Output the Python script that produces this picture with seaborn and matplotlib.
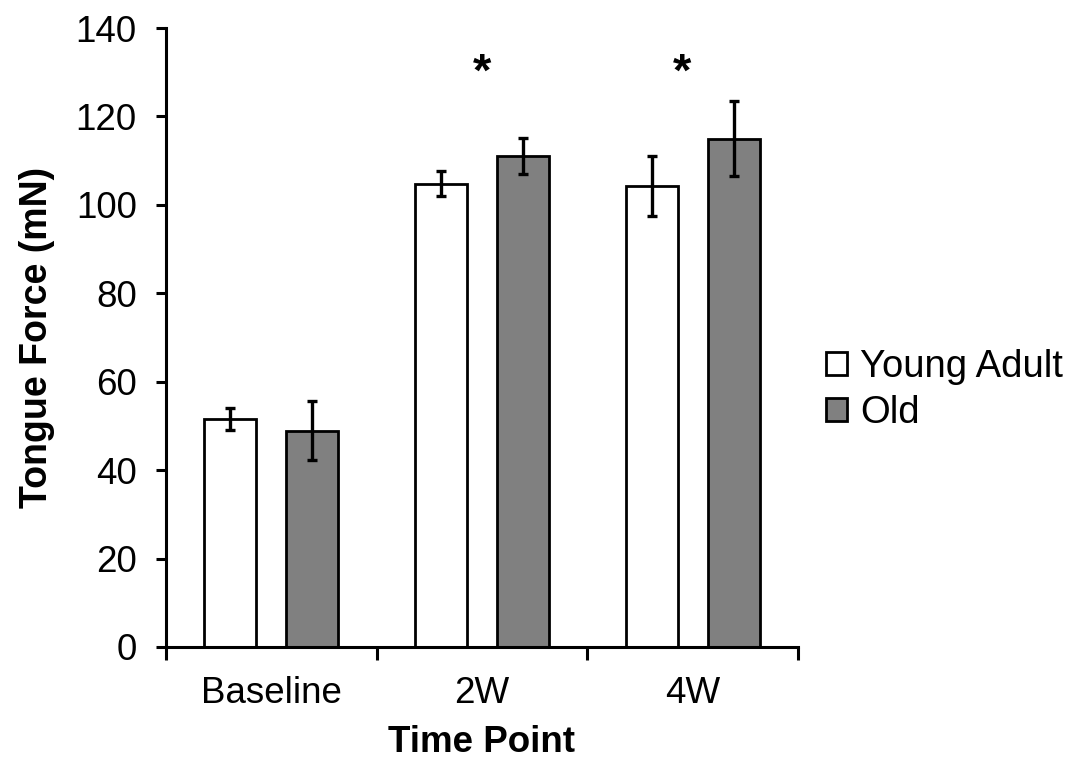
import matplotlib
matplotlib.use("Agg")
import matplotlib.pyplot as plt
from matplotlib.ticker import FixedLocator, MultipleLocator
import seaborn as sns
import pandas as pd

# Tongue force per time point and age group (mean ± SEM)
time_points = ["Baseline", "2W", "4W"]
groups = ["Young Adult", "Old"]
young_mean = [51.6, 104.8, 104.3]
young_sem = [2.5, 2.9, 6.8]
old_mean = [48.9, 111.1, 115.0]
old_sem = [6.7, 4.1, 8.4]
significant = ["2W", "4W"]

df = pd.DataFrame({
    "Time Point": time_points * 2,
    "Group": [groups[0]] * 3 + [groups[1]] * 3,
    "Force": young_mean + old_mean,
})
sems = {groups[0]: young_sem, groups[1]: old_sem}

sns.set_style("ticks")
plt.rcParams["font.family"] = ["Liberation Sans", "DejaVu Sans"]
for key in ("text.color", "axes.labelcolor", "xtick.color", "ytick.color"):
    plt.rcParams[key] = "black"

fig = plt.figure(figsize=(10.7, 7.59), dpi=100)
ax = fig.add_axes([166 / 1070, 1 - 647 / 759, (798 - 166) / 1070, (647 - 28) / 759])

sns.barplot(
    data=df, x="Time Point", y="Force", hue="Group", order=time_points,
    hue_order=groups, palette={groups[0]: "white", groups[1]: "#808080"},
    width=0.78, gap=0.367, errorbar=None, edgecolor="black", linewidth=2.0,
    saturation=1, ax=ax,
)

# SEM error bars on top of each bar
for container, grp in zip(ax.containers, groups):
    xs = [p.get_x() + p.get_width() / 2 for p in container]
    hs = [p.get_height() for p in container]
    ax.errorbar(xs, hs, yerr=sems[grp], fmt="none", ecolor="black",
                elinewidth=2.4, capsize=3.6, capthick=2.4, zorder=5)

# significance markers above the groups that differ
star_shift = {"2W": 0.0, "4W": -0.05}
for tp in significant:
    ax.text(time_points.index(tp) + star_shift[tp], 127.0, "*", ha="center",
            va="baseline", fontsize=34, fontweight="bold")

ax.set_xlim(-0.5, 2.5)
ax.set_ylim(0, 140)
ax.yaxis.set_major_locator(MultipleLocator(20))
ax.xaxis.set_minor_locator(FixedLocator([-0.5, 0.5, 1.5, 2.5]))
ax.tick_params(axis="x", which="major", length=0, pad=21, labelsize=26.5)
ax.tick_params(axis="x", which="minor", length=9, width=2.2, direction="out")
ax.tick_params(axis="y", length=7, width=2.2, pad=14, labelsize=26.5)

sns.despine(ax=ax)
for side in ("left", "bottom"):
    ax.spines[side].set_linewidth(2.2)
    ax.spines[side].set_color("black")

ax.set_xlabel("Time Point", fontsize=26.5, fontweight="bold", labelpad=10)
ax.set_ylabel("Tongue Force (mN)", fontsize=27, fontweight="bold")
ax.yaxis.set_label_coords(-0.175, 0.5)

sns.move_legend(
    ax, "center left", bbox_to_anchor=(826 / 1070, 1 - 390 / 759),
    bbox_transform=fig.transFigure, frameon=False, title=None, fontsize=27.5,
    handlelength=0.55, handleheight=0.55, handletextpad=0.35,
    labelspacing=0.25, borderpad=0, borderaxespad=0,
)
for h in ax.get_legend().legend_handles:
    h.set_edgecolor("black")
    h.set_linewidth(2.0)

fig.savefig("out.png", dpi=100)
